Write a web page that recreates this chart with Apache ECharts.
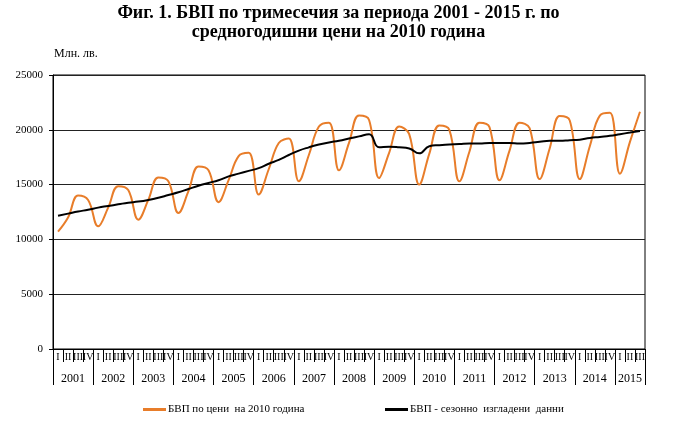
<!DOCTYPE html>
<html>
<head>
<meta charset="utf-8">
<script src="https://cdn.jsdelivr.net/npm/echarts@6.0.0/dist/echarts.min.js"></script>
<style>
html,body{margin:0;padding:0;background:#fff;}
#chart{width:677px;height:430px;}
</style>
</head>
<body>
<div id="chart"></div>
<script>
// Data (million BGN, 2010 prices), quarters 2001 Q1 .. 2015 Q3
var years = ['2001','2002','2003','2004','2005','2006','2007','2008','2009','2010','2011','2012','2013','2014','2015'];
var quarterNames = ['I','II','III','IV'];
var gdpActual = [
  10700,12000,14000,13600,
  11200,12900,14850,14500,
  11800,13600,15650,15300,
  12400,14400,16650,16300,
  13400,15400,17600,17900,
  14100,16400,18800,19200,
  15300,17700,20300,20650,
  16300,18800,21300,20900,
  15600,17900,20300,19600,
  15000,17800,20400,20000,
  15300,18000,20650,20250,
  15400,18100,20650,20150,
  15500,18300,21250,20850,
  15500,18500,21300,21550,
  16000,18900,21650
];
var gdpSeasAdj = [
  12150,12350,12550,12700,
  12900,13050,13200,13350,
  13450,13600,13800,14050,
  14300,14600,14900,15150,
  15400,15750,16000,16250,
  16500,16900,17250,17700,
  18100,18400,18650,18850,
  19000,19200,19400,19600,
  18400,18450,18400,18300,
  17850,18500,18600,18650,
  18700,18750,18750,18800,
  18800,18800,18750,18800,
  18900,19000,19000,19050,
  19100,19250,19350,19450,
  19600,19750,19900
];
var seriesNames = ['БВП по цени  на 2010 година', 'БВП - сезонно  изгладени  данни'];
var titleLines = ['Фиг. 1. БВП по тримесечия за периода 2001 - 2015 г. по', 'средногодишни цени на 2010 година'];

var categories = [];
for (var i = 0; i < gdpActual.length; i++) categories.push(quarterNames[i % 4]);
var nQ = categories.length;
var yearTickVals = [], yearLabelVals = [];
for (var y = 0; y < years.length; y++) {
  yearTickVals.push(y * 4);
  var end = Math.min(nQ, (y + 1) * 4);
  yearLabelVals.push((y * 4 + end) / 2);
}
yearTickVals.push(nQ);

var FF = '"Liberation Serif", "Times New Roman", serif';
var titleStyle = { fontFamily: FF, fontSize: 18, fontWeight: 'bold', color: '#000' };
var chart = echarts.init(document.getElementById('chart'));
chart.setOption({
  backgroundColor: '#fff',
  animation: false,
  title: [
    { text: titleLines[0], left: 'center', top: -1, textStyle: titleStyle },
    { text: titleLines[1], left: 'center', top: 18, textStyle: titleStyle },
    {
      text: 'Млн. лв.', left: 49, top: 43,
      textStyle: { fontFamily: FF, fontSize: 12, fontWeight: 'normal', color: '#000' }
    }
  ],
  legend: [
    {
      data: [seriesNames[0]], left: 138, top: 399, icon: 'rect', itemWidth: 23, itemHeight: 3, itemGap: 2,
      textStyle: { fontFamily: FF, fontSize: 11, color: '#000', padding: [0,0,0,-3] }
    },
    {
      data: [seriesNames[1]], left: 380, top: 399, icon: 'rect', itemWidth: 23, itemHeight: 3,
      textStyle: { fontFamily: FF, fontSize: 11, color: '#000', padding: [0,0,0,-3] }
    }
  ],
  grid: {
    left: 53, right: 32, top: 75, bottom: 81,
    show: true, borderColor: '#000', borderWidth: 1, backgroundColor: 'transparent'
  },
  xAxis: [
    {
      type: 'category', data: categories, boundaryGap: true,
      axisLine: { show: true, lineStyle: { color: '#000', width: 1 } },
      axisTick: { show: true, interval: 0, length: 13, lineStyle: { color: '#000' } },
      axisLabel: { interval: 0, margin: 3, fontFamily: FF, fontSize: 10, color: '#000' },
      splitLine: { show: false }
    },
    {
      type: 'value', min: 0, max: nQ, position: 'bottom',
      axisLine: { show: false },
      axisTick: { show: true, customValues: yearTickVals, length: 36, lineStyle: { color: '#000' } },
      axisLabel: {
        customValues: yearLabelVals, margin: 24, fontFamily: FF, fontSize: 12, color: '#000',
        formatter: function (v) { return years[Math.floor(v / 4)]; }
      },
      splitLine: { show: false }
    }
  ],
  yAxis: {
    type: 'value', min: 0, max: 25000, interval: 5000,
    axisLine: { show: true, lineStyle: { color: '#000', width: 1 } },
    axisTick: { show: true, length: 4, lineStyle: { color: '#000' } },
    axisLabel: { margin: 10, fontFamily: FF, fontSize: 11, color: '#000', formatter: function (v) { return String(v); } },
    splitLine: { show: true, lineStyle: { color: '#222', width: 1 } }
  },
  series: [
    {
      name: seriesNames[0], type: 'line', xAxisIndex: 0, data: gdpActual,
      smooth: 0.4, symbol: 'none',
      lineStyle: { color: '#E87D2A', width: 2 }, itemStyle: { color: '#E87D2A' }
    },
    {
      name: seriesNames[1], type: 'line', xAxisIndex: 0, data: gdpSeasAdj,
      smooth: true, symbol: 'none',
      lineStyle: { color: '#000', width: 2 }, itemStyle: { color: '#000' }
    }
  ]
});
</script>
</body>
</html>
